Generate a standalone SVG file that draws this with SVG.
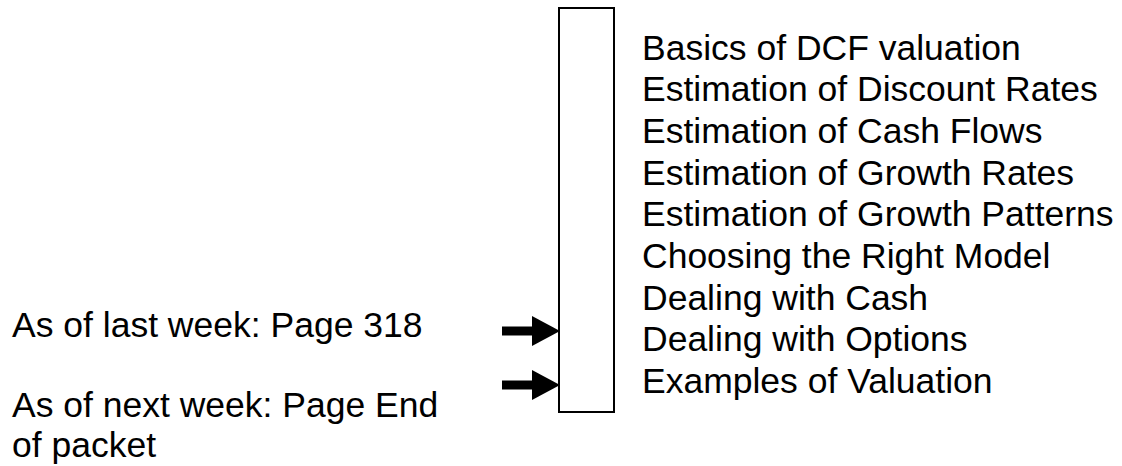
<svg xmlns="http://www.w3.org/2000/svg" width="1122" height="466" viewBox="0 0 1122 466">
<style>
text{font-family:"Liberation Sans",Arial,sans-serif;font-size:35.5px;fill:#000}
.box{fill:#fff;stroke:#000;stroke-width:2}
.shaft{stroke:#000;stroke-width:9;fill:none}
</style>
<defs>
<marker id="ah" markerUnits="userSpaceOnUse" markerWidth="28" markerHeight="30" refX="0" refY="15" orient="auto" viewBox="0 0 28 30">
<path d="M0,0 L28,15 L0,30 Z" fill="#000"/>
</marker>
</defs>
<rect width="1122" height="466" fill="#fff"/>
<g id="bar"><rect class="box" x="559" y="8" width="55" height="404"/></g>
<g id="topics">
<text x="642" y="59.5">Basics of DCF valuation</text>
<text x="642" y="101.2">Estimation of Discount Rates</text>
<text x="642" y="142.9">Estimation of Cash Flows</text>
<text x="642" y="184.6">Estimation of Growth Rates</text>
<text x="642" y="226.3">Estimation of Growth Patterns</text>
<text x="642" y="268">Choosing the Right Model</text>
<text x="642" y="309.7">Dealing with Cash</text>
<text x="642" y="351.4">Dealing with Options</text>
<text x="642" y="393.1">Examples of Valuation</text>
</g>
<g id="last-week"><text x="12" y="337">As of last week: Page 318</text></g>
<g id="next-week"><text x="12" y="417">As of next week: Page End</text><text x="12" y="457">of packet</text></g>
<g id="connectors">
<line class="shaft" x1="502" y1="331" x2="532" y2="331" marker-end="url(#ah)"/>
<line class="shaft" x1="502" y1="385" x2="532" y2="385" marker-end="url(#ah)"/>
</g>
</svg>
